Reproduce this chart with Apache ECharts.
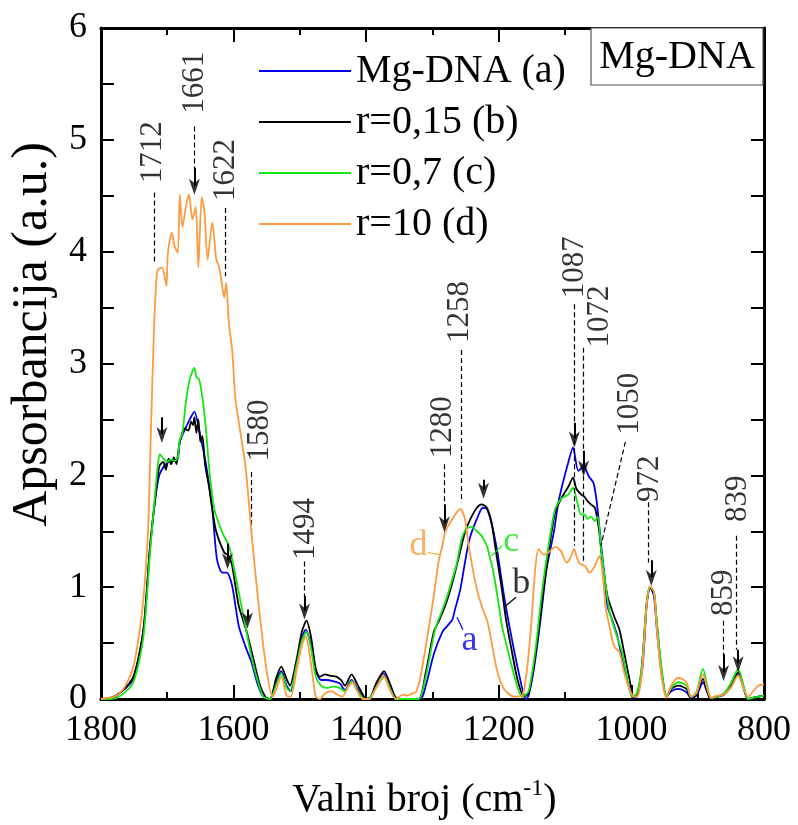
<!DOCTYPE html>
<html><head><meta charset="utf-8">
<script src="https://cdn.jsdelivr.net/npm/echarts@6/dist/echarts.min.js"></script>
<style>html,body{margin:0;padding:0;background:#fff}#c{width:798px;height:825px}</style>
</head><body><div id="c"></div>
<script>
// ---------- data ----------
const seriesNames = ['Mg-DNA (a)', 'r=0,15 (b)', 'r=0,7 (c)', 'r=10 (d)'];
const seriesColors = ['#0000ee', '#000000', '#14e614', '#ff9a40'];
const xTickValues = [1800, 1600, 1400, 1200, 1000, 800];
const yTickValues = [0, 1, 2, 3, 4, 5, 6];

const aWn  = [1800,1785,1770,1751,1736,1726,1718,1712,1705,1698,1690,1684,1681,1674,1666,1659,1652,1641,1632,1625,1617,1610,1602,1592,1582,1573,1563,1555,1545,1536,1528,1520,1514,1505,1497,1491,1484,1476,1468,1460,1450,1440,1432,1422,1414,1405,1395,1385,1374,1364,1355,1340,1318,1310,1298,1285,1278,1270,1266,1258,1251,1244,1233,1224,1218,1210,1202,1192,1181,1169,1159,1155,1147,1137,1128,1117,1110,1103,1095,1088,1080,1072,1064,1057,1052,1046,1040,1036,1028,1021,1014,1006,999,995,984,977,972,966,962,955,947,940,929,917,910,902,892,885,880,870,860,850,839,830,824,810,800];
const aAbs = [0,0.01,0.06,0.18,0.6,1.34,1.79,2.0,2.08,2.12,2.13,2.15,2.30,2.40,2.50,2.57,2.41,2.08,1.70,1.25,1.13,1.13,1.01,0.65,0.47,0.33,0.12,0.02,0,0.15,0.25,0.12,0.07,0.3,0.55,0.62,0.5,0.25,0.17,0.17,0.16,0.14,0.08,0.17,0.1,0.02,0,0.12,0.23,0.1,0,0,0,0.12,0.4,0.6,0.65,0.71,0.8,0.98,1.22,1.43,1.61,1.71,1.70,1.55,1.31,0.92,0.56,0.21,0,0.03,0.27,0.71,1.16,1.49,1.76,1.94,2.12,2.25,2.04,2.08,1.99,1.93,1.75,1.40,1.07,0.83,0.69,0.56,0.36,0.15,0.03,0,0.24,0.83,1.0,0.92,0.65,0.25,0.02,0.07,0.09,0.06,0.01,0.03,0.15,0.05,0,0.02,0.04,0.12,0.22,0.08,0,0.02,0.03];

const bWn  = [1800,1785,1770,1751,1736,1726,1718,1712,1706,1702,1698,1694,1690,1686,1684,1681,1674,1668,1664,1661,1659,1656,1653,1650,1647,1643,1637,1627,1614,1607,1602,1592,1580,1570,1560,1552,1545,1536,1528,1520,1515,1505,1497,1490,1483,1476,1470,1462,1455,1445,1438,1432,1422,1414,1405,1400,1393,1385,1373,1363,1355,1345,1321,1310,1298,1291,1281,1270,1261,1251,1241,1233,1226,1218,1211,1204,1196,1189,1181,1172,1162,1155,1144,1135,1125,1115,1106,1095,1088,1083,1076,1071,1066,1061,1055,1049,1043,1036,1026,1018,1011,1003,996,990,984,977,972,966,962,955,947,940,929,917,910,902,892,885,880,870,860,850,839,830,824,810,800];
const bAbs = [0,0.01,0.06,0.2,0.62,1.36,1.8,2.08,2.12,2.05,2.15,2.1,2.16,2.1,2.18,2.3,2.42,2.4,2.48,2.45,2.52,2.38,2.5,2.3,2.35,2.1,1.9,1.52,1.31,1.28,1.19,0.83,0.6,0.36,0.12,0.02,0,0.18,0.29,0.18,0.12,0.35,0.6,0.70,0.55,0.27,0.2,0.22,0.21,0.2,0.17,0.12,0.22,0.14,0.04,0,0.02,0.14,0.25,0.12,0.01,0,0,0.24,0.6,0.69,0.83,1.04,1.25,1.49,1.63,1.71,1.74,1.71,1.58,1.31,1.01,0.71,0.45,0.18,0.02,0.05,0.42,0.86,1.31,1.67,1.79,1.90,1.98,1.88,1.83,1.81,1.77,1.74,1.71,1.52,1.19,0.92,0.74,0.62,0.42,0.18,0.01,0.05,0.3,0.85,1.0,0.95,0.7,0.28,0.02,0.09,0.12,0.09,0.01,0.04,0.18,0.06,0,0.02,0.05,0.13,0.24,0.09,0,0.02,0.03];

const cWn  = [1800,1785,1770,1751,1736,1726,1718,1714,1711,1706,1700,1694,1688,1684,1681,1677,1672,1666,1659,1656,1652,1647,1641,1637,1629,1617,1607,1602,1592,1582,1573,1563,1555,1545,1536,1528,1520,1515,1505,1497,1490,1483,1476,1468,1460,1450,1440,1432,1422,1414,1405,1397,1385,1373,1363,1355,1340,1321,1310,1296,1281,1270,1263,1256,1249,1241,1233,1226,1218,1214,1209,1202,1195,1184,1174,1165,1155,1144,1135,1125,1115,1106,1095,1088,1082,1076,1071,1066,1061,1055,1051,1046,1040,1033,1024,1014,1006,999,992,984,977,972,966,962,955,947,940,929,917,910,902,892,885,880,870,860,850,839,830,824,810,800];
const cAbs = [0,0,0.03,0.15,0.55,1.3,1.85,2.1,2.19,2.15,2.12,2.14,2.13,2.16,2.32,2.38,2.65,2.86,2.96,2.88,2.86,2.7,2.38,2.08,1.70,1.49,1.37,1.25,0.95,0.65,0.38,0.15,0.02,0,0.12,0.23,0.1,0.07,0.3,0.52,0.6,0.45,0.2,0.12,0.1,0.11,0.1,0.07,0.16,0.08,0.01,0,0.1,0.2,0.08,0,0,0,0.2,0.62,0.86,1.07,1.22,1.43,1.52,1.54,1.50,1.46,1.37,1.28,1.16,0.92,0.65,0.38,0.15,0.02,0.07,0.47,0.95,1.37,1.70,1.79,1.83,1.89,1.77,1.65,1.65,1.61,1.63,1.59,1.63,1.37,1.07,0.78,0.60,0.42,0.18,0.02,0.05,0.3,0.86,1.0,0.96,0.72,0.3,0.03,0.1,0.15,0.12,0.02,0.06,0.27,0.1,0.01,0.02,0.05,0.14,0.27,0.1,0,0.02,0.03];

const dWn  = [1800,1790,1781,1770,1760,1751,1743,1736,1729,1725,1720,1716,1714,1708,1703,1701,1699,1693,1689,1684,1681,1677,1671,1667,1662,1657,1653,1648,1644,1639,1632,1626,1622,1617,1614,1611,1607,1602,1597,1582,1573,1563,1551,1541,1536,1528,1520,1514,1505,1497,1491,1484,1476,1470,1462,1452,1444,1436,1428,1420,1412,1405,1395,1385,1374,1364,1355,1345,1338,1330,1325,1318,1306,1298,1291,1285,1281,1270,1258,1251,1246,1241,1233,1224,1217,1209,1202,1192,1177,1165,1160,1155,1150,1145,1140,1132,1125,1115,1106,1098,1093,1086,1083,1078,1070,1063,1055,1048,1043,1039,1033,1026,1018,1011,1003,996,990,984,977,972,966,962,955,947,940,929,917,910,902,892,885,880,870,860,850,839,830,824,815,808,800];
const dAbs = [0,0.01,0.02,0.06,0.15,0.29,0.55,0.89,1.49,2.3,3.3,3.78,3.84,3.86,3.75,3.69,3.99,4.17,4.05,3.99,4.51,4.22,4.43,4.51,4.29,4.40,3.86,4.49,4.37,3.93,4.26,3.93,3.87,3.69,3.59,3.72,3.36,3.12,2.68,2.08,1.49,0.89,0.29,0.02,0.08,0.2,0.03,0.02,0.25,0.48,0.56,0.35,0.02,0,0.05,0.07,0.04,0.02,0.1,0.15,0.05,0,0,0.1,0.21,0.08,0,0.04,0.03,0.05,0.06,0.2,0.62,0.92,1.22,1.37,1.49,1.61,1.70,1.61,1.40,1.22,0.98,0.80,0.69,0.45,0.24,0.09,0.02,0.03,0.15,0.4,0.75,1.16,1.34,1.29,1.31,1.36,1.32,1.22,1.25,1.34,1.28,1.21,1.19,1.13,1.19,1.28,1.10,0.83,0.65,0.47,0.42,0.24,0.09,0.02,0.03,0.24,0.83,1.01,0.96,0.65,0.22,0.01,0.12,0.19,0.15,0.02,0.05,0.22,0.08,0.01,0.03,0.04,0.1,0.21,0.08,0.02,0.08,0.12,0.13];

// peak annotations: text, label anchor (wavenumber, absorbance)
const peakText   = ['1712','1661','1622','1580','1494','1280','1258','1087','1072','1050','972','859','839'];
const peakTextWn = [1721, 1659, 1612, 1560, 1491, 1284, 1258, 1085, 1048, 1003, 972, 861, 839];
const peakTextAb = [4.89, 5.51, 4.73, 2.40, 1.52, 2.43, 3.46, 3.86, 3.42, 2.64, 1.97, 0.95, 1.79];

// dashed guide lines: [wn1, abs1, wn2, abs2]
const guideLines = [
  [1720,4.53,1720,3.90],[1659,5.12,1659,4.72],[1612,4.39,1612,3.78],[1574,2.03,1574,1.45],
  [1493,1.23,1493,0.88],[1282,2.10,1282,1.72],[1257,3.12,1257,1.76],[1086,3.53,1086,1.37],
  [1072,3.14,1072,1.21],[1009,2.30,1046,1.37],[974,1.76,974,1.22],[861,0.70,861,0.38],[842,1.46,842,0.44]
];
// arrows: [wn, absFrom, absTip]
const arrowLines = [
  [1708,2.52,2.29],[1659,4.75,4.51],[1609,1.39,1.16],[1579,0.80,0.63],[1493,0.92,0.71],
  [1282,1.74,1.49],[1223,1.96,1.79],[1086,2.47,2.25],[1072,2.22,1.99],[970,1.24,1.01],
  [861,0.40,0.16],[839,0.44,0.24]
];
// curve letters
const letterText = ['a','b','c','d'];
const letterWn   = [1244, 1166, 1181, 1321];
const letterAb   = [0.52, 1.03, 1.41, 1.37];
const letterLeaders = [[1254,0.62,1263,0.73],[1174,0.91,1192,0.82],[1195,1.37,1211,1.28],[1307,1.31,1288,1.29]];

// ---------- chart ----------
const FONT = '"Liberation Serif", "Times New Roman", serif';
const zip = (w, a) => w.map((v, i) => [v, a[i]]);
const curves = [zip(aWn, aAbs), zip(bWn, bAbs), zip(cWn, cAbs), zip(dWn, dAbs)];

const chart = echarts.init(document.getElementById('c'), null, {renderer: 'canvas'});

const axisBase = {
  axisLine: {show: true, onZero: false, lineStyle: {color: '#000', width: 3}},
  splitLine: {show: false},
  minorSplitLine: {show: false}
};

const xMin = Math.min(...xTickValues), xMax = Math.max(...xTickValues);
const yMin = Math.min(...yTickValues), yMax = Math.max(...yTickValues);
const ARROW = 'path://M0,0 L5,15 L10,0 L5,4 Z';

const option = {
  animation: false,
  backgroundColor: '#fff',
  grid: {left: 90, right: 34, top: 28, bottom: 125, containLabel: false},
  legend: {
    data: seriesNames, orient: 'vertical', left: 254, top: 46, padding: 5,
    itemWidth: 92, itemHeight: 2, itemGap: 11, icon: 'rect', selectedMode: false,
    textStyle: {fontFamily: FONT, fontSize: 40, color: '#000'}
  },
  xAxis: [
    Object.assign({}, axisBase, {
      type: 'value', min: xMin, max: xMax, interval: 200, inverse: true, position: 'bottom',
      axisTick: {show: true, inside: true, length: 14, lineStyle: {color: '#000', width: 2}},
      minorTick: {show: true, splitNumber: 2, length: 7, lineStyle: {color: '#000', width: 2}},
      axisLabel: {fontFamily: FONT, fontSize: 36, color: '#000', margin: 14, formatter: v => String(v)},
      name: 'Valni broj (cm{sup|-1})', nameLocation: 'middle', nameGap: 78,
      nameTextStyle: {fontFamily: FONT, fontSize: 40, color: '#000', padding: [0, 16, 0, 0],
        rich: {sup: {fontFamily: FONT, fontSize: 24, color: '#000', verticalAlign: 'top', padding: [0, 0, 22, 0]}}}
    }),
    Object.assign({}, axisBase, {
      type: 'value', min: xMin, max: xMax, interval: 200, inverse: true, position: 'top',
      axisTick: {show: true, inside: true, length: 14, lineStyle: {color: '#000', width: 2}},
      minorTick: {show: true, splitNumber: 2, length: 7, lineStyle: {color: '#000', width: 2}},
      axisLabel: {show: false}
    })
  ],
  yAxis: [
    Object.assign({}, axisBase, {
      type: 'value', min: yMin, max: yMax, interval: 1, position: 'left',
      axisTick: {show: true, inside: true, length: 13, lineStyle: {color: '#000', width: 2}},
      minorTick: {show: true, splitNumber: 2, length: 13, lineStyle: {color: '#000', width: 2}},
      axisLabel: {fontFamily: FONT, fontSize: 36, color: '#000', margin: 14},
      name: 'Apsorbancija (a.u.)', nameLocation: 'middle', nameRotate: 90, nameGap: 39,
      nameTextStyle: {fontFamily: FONT, fontSize: 50, color: '#000', padding: [0, 0, 0, 58]}
    }),
    Object.assign({}, axisBase, {
      type: 'value', min: yMin, max: yMax, interval: 1, position: 'right',
      axisTick: {show: true, inside: true, length: 13, lineStyle: {color: '#000', width: 2}},
      minorTick: {show: true, splitNumber: 2, length: 13, lineStyle: {color: '#000', width: 2}},
      axisLabel: {show: false}
    })
  ],
  series: [
    ...curves.map((d, i) => ({
      name: seriesNames[i], type: 'line', data: d, xAxisIndex: 0, yAxisIndex: 0,
      showSymbol: false, symbol: 'none', smooth: 0.25, silent: true,
      lineStyle: {color: seriesColors[i], width: 1.8}, itemStyle: {color: seriesColors[i]}, z: 2 + i
    })),
    {
      name: 'guides', type: 'line', data: [], xAxisIndex: 0, yAxisIndex: 0, z: 10,
      markLine: {
        silent: true, animation: false, symbol: ['none', 'none'], label: {show: false},
        lineStyle: {type: [5, 3], color: '#000', width: 1.2},
        emphasis: {disabled: true},
        data: guideLines.map(g => [{coord: [g[0], g[1]]}, {coord: [g[2], g[3]]}])
      }
    },
    {
      name: 'shafts', type: 'line', data: [], xAxisIndex: 0, yAxisIndex: 0, z: 11,
      markLine: {
        silent: true, animation: false, symbol: ['none', 'none'], label: {show: false},
        lineStyle: {type: 'solid', color: '#000', width: 2},
        emphasis: {disabled: true},
        data: arrowLines.map(g => [{coord: [g[0], g[1]]}, {coord: [g[0], g[2] + 0.08]}])
      }
    },
    {
      name: 'arrowHeads', type: 'scatter', xAxisIndex: 0, yAxisIndex: 0, silent: true, z: 12,
      symbol: ARROW, symbolSize: [11, 16], symbolOffset: [0, '-50%'],
      itemStyle: {color: '#000'},
      data: arrowLines.map(g => [g[0], g[2]])
    },
    {
      name: 'leaders', type: 'line', data: [], xAxisIndex: 0, yAxisIndex: 0, z: 11,
      markLine: {
        silent: true, animation: false, symbol: ['none', 'none'], label: {show: false},
        emphasis: {disabled: true},
        data: letterLeaders.map((g, i) => [{coord: [g[0], g[1]], lineStyle: {type: 'solid', color: seriesColors[i], width: 1.2}}, {coord: [g[2], g[3]]}])
      }
    },
    {
      name: 'peakLabels', type: 'scatter', xAxisIndex: 0, yAxisIndex: 0, symbolSize: 0, silent: true, z: 12,
      data: peakText.map((t, i) => [peakTextWn[i], peakTextAb[i], t]),
      label: {show: true, position: 'inside', rotate: 90, formatter: p => p.data[2],
        fontFamily: FONT, fontSize: 31, color: '#000'}
    },
    {
      name: 'letters', type: 'scatter', xAxisIndex: 0, yAxisIndex: 0, symbolSize: 0, silent: true, z: 12,
      data: letterText.map((t, i) => ({value: [letterWn[i], letterAb[i], t],
        label: {color: seriesColors[i]}})),
      label: {show: true, position: 'inside', formatter: p => p.data.value[2],
        fontFamily: FONT, fontSize: 36}
    }
  ],
  graphic: [
    {type: 'rect', shape: {x: 591, y: 28, width: 172, height: 57}, z: 50,
      style: {fill: '#fff', stroke: '#555', lineWidth: 1.2}},
    {type: 'text', x: 677, y: 57, z: 51,
      style: {text: 'Mg-DNA', font: '40px "Liberation Serif"', fill: '#000', textAlign: 'center', textVerticalAlign: 'middle'}}
  ]
};
chart.setOption(option);
</script></body></html>
